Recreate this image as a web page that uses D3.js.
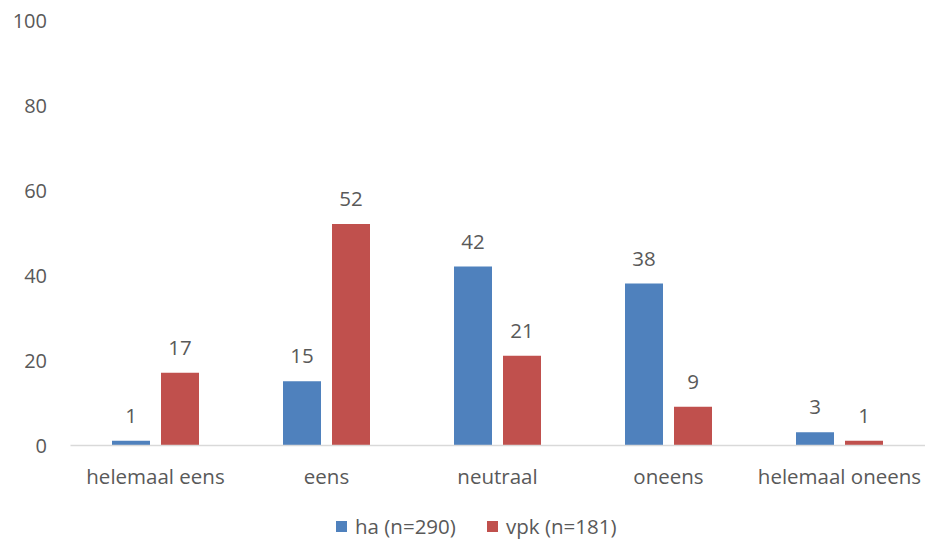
<!DOCTYPE html>
<html>
<head>
<meta charset="utf-8">
<script src="https://cdn.jsdelivr.net/npm/d3@7"></script>
<style>
  body { margin: 0; background: #fff; }
  svg text { font-family: "Open Sans", "Noto Sans", sans-serif; fill: #595959; }
</style>
</head>
<body>
<svg id="chart" width="925" height="542"></svg>
<script>
// Answer categories along the x axis
const categories = ["helemaal eens", "eens", "neutraal", "oneens", "helemaal oneens"];
// Percentages per group
const haValues = [1, 15, 42, 38, 3];
const vpkValues = [17, 52, 21, 9, 1];
const seriesNames = ["ha (n=290)", "vpk (n=181)"];
const seriesColors = ["#4F81BD", "#C0504D"];
const yTicks = [0, 20, 40, 60, 80, 100];

const series = [haValues, vpkValues];
const svg = d3.select("#chart");
const margin = { left: 70, right: 0, top: 20, bottom: 97 };
const W = 925, H = 542;
const fs = 20.5;

const x = d3.scaleBand().domain(categories).range([margin.left, W - margin.right]).paddingInner(0).paddingOuter(0);
const y = d3.scaleLinear().domain([0, 100]).range([H - margin.bottom, margin.top]);

const barW = 38, gap = 11;

// Y axis labels (no axis line, no gridlines)
const yAxis = d3.axisLeft(y).tickValues(yTicks).tickSize(0).tickPadding(0);
const gy = svg.append("g").attr("transform", `translate(47,0)`).call(yAxis);
gy.select(".domain").remove();
gy.selectAll("text").attr("font-size", 20).attr("fill", "#595959")
  .style("font-family", "'Open Sans', sans-serif").attr("dy", "0.35em");

// Bars with value labels
series.forEach((vals, si) => {
  const offset = si === 0 ? -gap / 2 - barW : gap / 2;
  const g = svg.append("g");
  g.selectAll("rect").data(vals).join("rect")
    .attr("x", (d, i) => x(categories[i]) + x.bandwidth() / 2 + offset)
    .attr("y", d => y(d))
    .attr("width", barW)
    .attr("height", d => y(0) - y(d))
    .attr("fill", seriesColors[si]);
  g.selectAll("text").data(vals).join("text")
    .attr("x", (d, i) => x(categories[i]) + x.bandwidth() / 2 + offset + barW / 2)
    .attr("y", d => y(d) - 18)
    .attr("text-anchor", "middle")
    .attr("font-size", fs)
    .text(d => d);
});

// X axis
const xAxis = d3.axisBottom(x).tickSize(0).tickPadding(0);
const gx = svg.append("g").attr("transform", `translate(0,${y(0)})`).call(xAxis);
gx.select(".domain").attr("stroke", "#D9D9D9").attr("stroke-width", 1.5);
gx.selectAll("text").attr("font-size", fs).attr("fill", "#595959")
  .style("font-family", "'Open Sans', sans-serif").attr("dy", "0").attr("y", 39);

// Legend
const legend = svg.append("g");
const legendX = [336, 487];
seriesNames.forEach((name, i) => {
  legend.append("rect").attr("x", legendX[i]).attr("y", 521).attr("width", 11).attr("height", 11).attr("fill", seriesColors[i]);
  legend.append("text").attr("x", legendX[i] + 19).attr("y", 534).attr("font-size", fs).text(name);
});
</script>
</body>
</html>
